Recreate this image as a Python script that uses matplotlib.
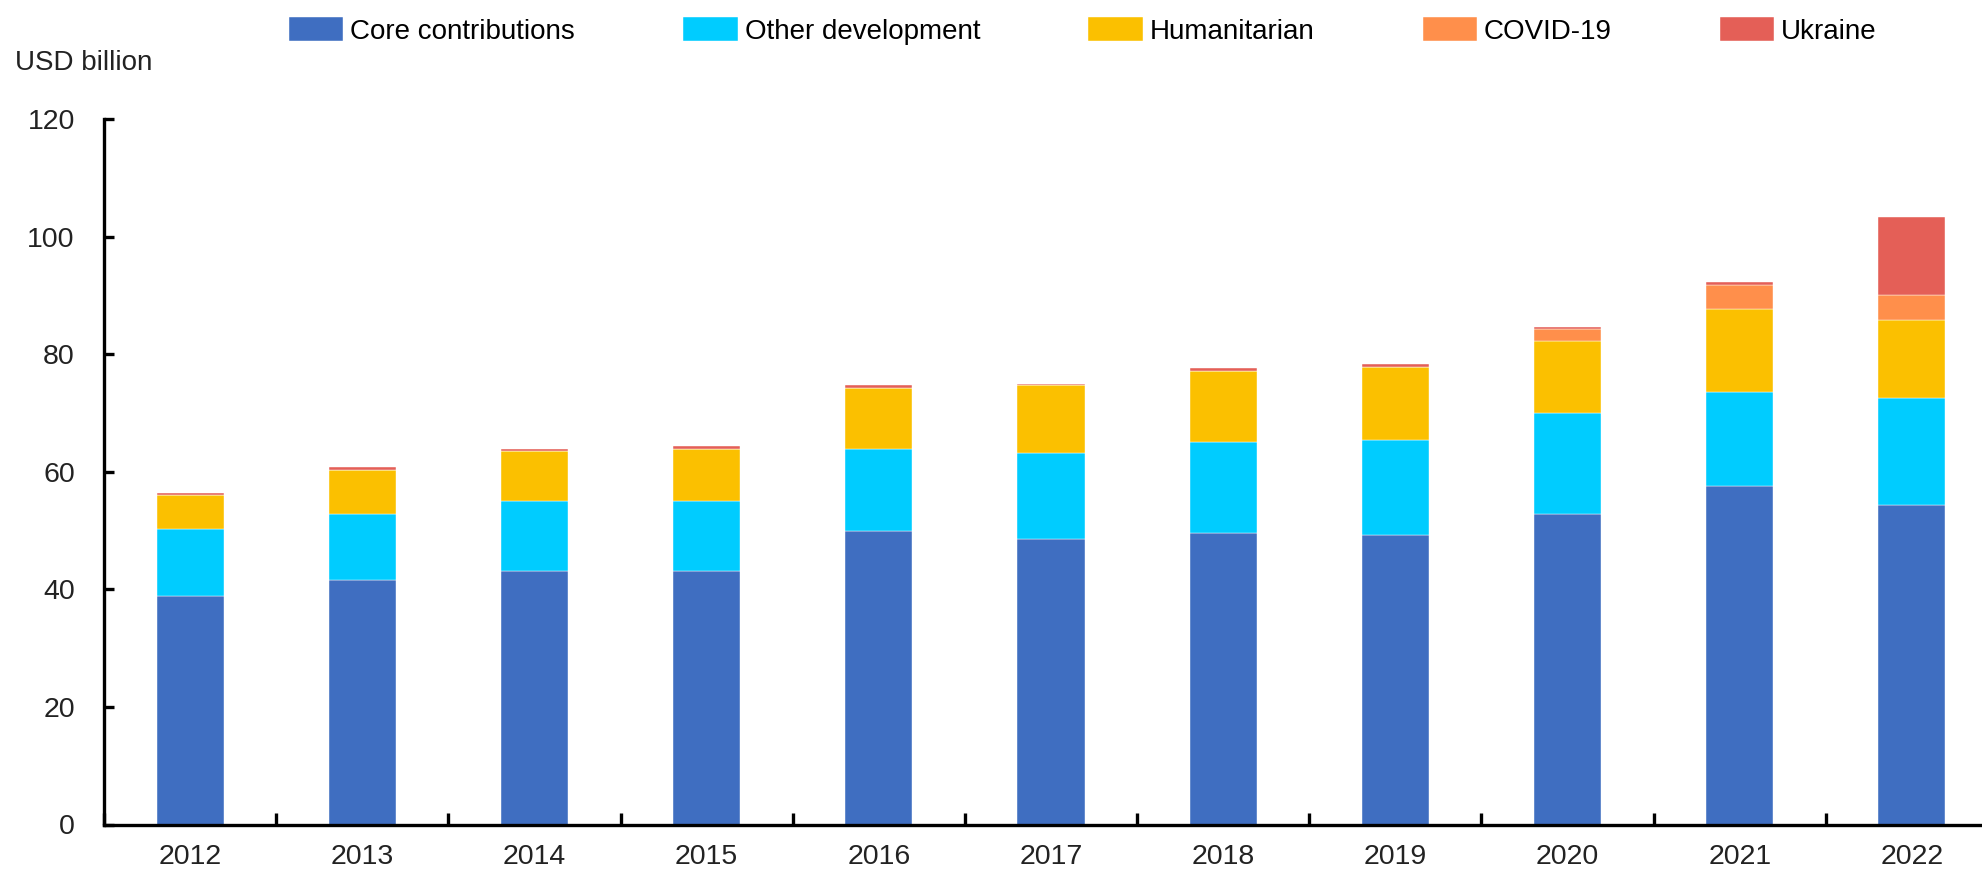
import matplotlib
matplotlib.use("Agg")
import matplotlib.pyplot as plt
import numpy as np

years = ["2012", "2013", "2014", "2015", "2016", "2017", "2018", "2019", "2020", "2021", "2022"]
core = [38.9, 41.6, 43.2, 43.2, 50.0, 48.5, 49.6, 49.2, 52.8, 57.5, 54.3]
other_dev = [11.4, 11.2, 11.8, 11.8, 13.9, 14.7, 15.4, 16.2, 17.2, 16.1, 18.2]
humanitarian = [5.7, 7.55, 8.5, 8.9, 10.4, 11.5, 12.2, 12.5, 12.2, 14.0, 13.3]
covid = [0, 0, 0, 0, 0, 0, 0, 0, 2.1, 4.2, 4.3]
ukraine = [0.4, 0.4, 0.4, 0.4, 0.4, 0.3, 0.4, 0.4, 0.4, 0.4, 13.3]

series_names = ["Core contributions", "Other development", "Humanitarian", "COVID-19", "Ukraine"]
colors = ["#3F6EC1", "#00CCFF", "#FBC000", "#FF8F4B", "#E45F57"]
y_ticks = [0, 20, 40, 60, 80, 100, 120]

plt.rcParams['font.family'] = ['Liberation Sans', 'DejaVu Sans']

fig = plt.figure(figsize=(19.82, 8.69), dpi=100)
ax = fig.add_axes([104/1982, 44.5/869, (1998-104)/1982, (824.5-119)/869])

x = np.arange(len(years))
bottom = np.zeros(len(years))
handles = []
for name, vals, c in zip(series_names, [core, other_dev, humanitarian, covid, ukraine], colors):
    vals = np.array(vals, dtype=float)
    b = ax.bar(x, vals, width=0.39, bottom=bottom, color=c, label=name,
               edgecolor="#FFFFFF", linewidth=0.3)
    handles.append(b)
    bottom += vals

ax.set_xlim(-0.5, 10.5)
ax.set_ylim(0, 120)
ax.set_yticks(y_ticks)
ax.set_xticks(x)
ax.set_xticklabels(years)
ax.set_xticks(np.arange(-0.5, 10.6, 1.0), minor=True)

for s in ["top", "right"]:
    ax.spines[s].set_visible(False)
for s in ["left", "bottom"]:
    ax.spines[s].set_linewidth(2.4)
    ax.spines[s].set_color("black")

ax.tick_params(axis="y", direction="in", length=7, width=2.4, labelsize=20.5, pad=21, labelcolor="#222222")
ax.tick_params(axis="x", which="major", length=0, labelsize=20.5, pad=14, labelcolor="#222222")
ax.tick_params(axis="x", which="minor", direction="in", length=9, width=2.4)

fig.text(15/1982, 1 - 63/869, "USD billion", fontsize=20, va="center", ha="left", color="#222222")

fig.legend(handles=handles, labels=series_names, loc="center", ncol=5,
           bbox_to_anchor=(1083/1982, 1 - 31/869), frameon=False, fontsize=20,
           handlelength=1.95, handleheight=0.9, handletextpad=0.25, columnspacing=3.9,
           borderaxespad=0, borderpad=0)

fig.savefig("out.png", dpi=100)
